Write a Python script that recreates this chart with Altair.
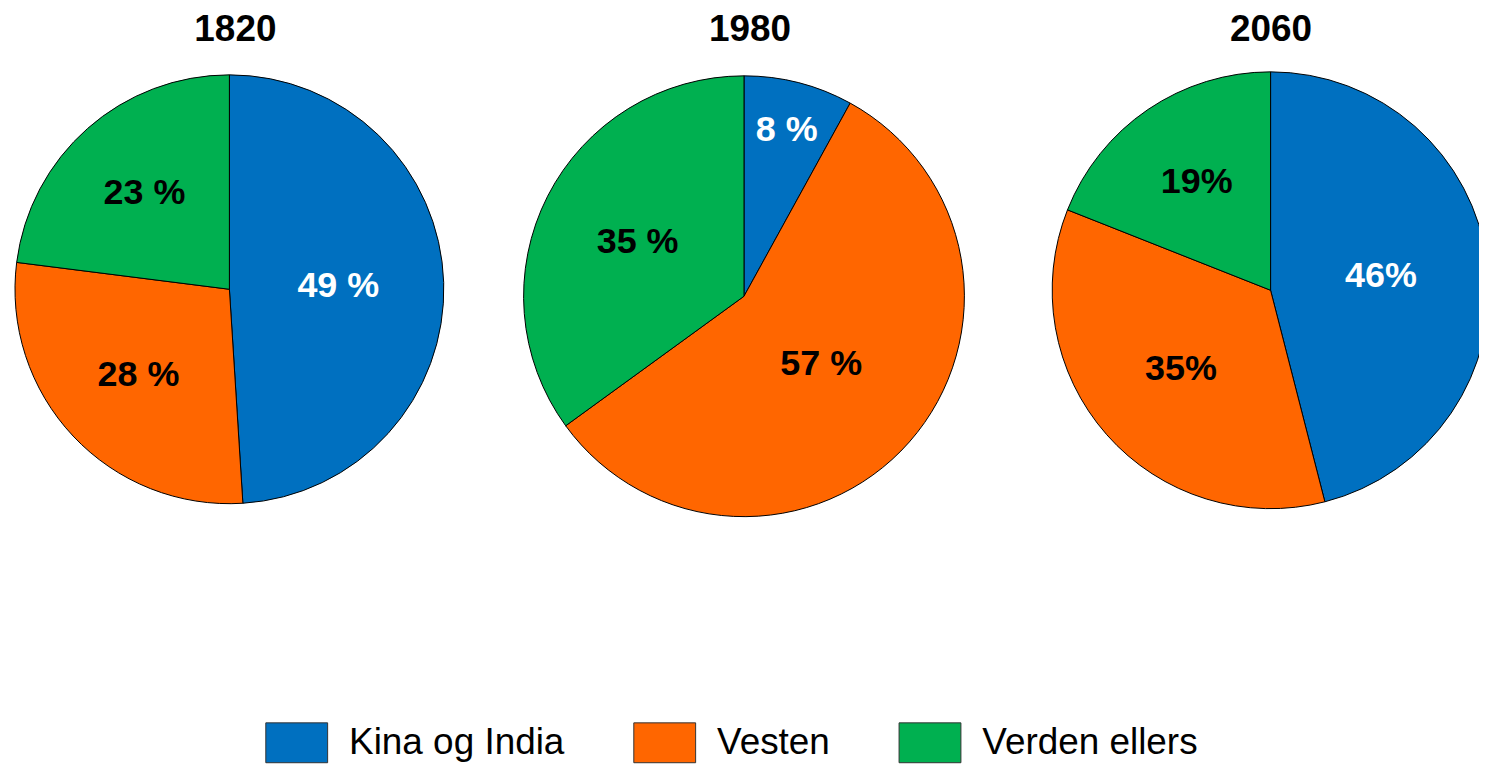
import altair as alt
import pandas as pd

years = ["1820", "1980", "2060"]
regions = ["Kina og India", "Vesten", "Verden ellers"]
shares = {
    "1820": [49, 28, 23],
    "1980": [8, 57, 35],
    "2060": [46, 35, 19],
}
labels = {
    "1820": ["49 %", "28 %", "23 %"],
    "1980": ["8 %", "57 %", "35 %"],
    "2060": ["46%", "35%", "19%"],
}
colors = ["#0070C0", "#FF6600", "#00B050"]

rows = []
for y in years:
    for k, (reg, val, lab) in enumerate(zip(regions, shares[y], labels[y])):
        rows.append({"year": y, "region": reg, "k": k, "share": val, "label": lab})
df = pd.DataFrame(rows)

FONT = "Liberation Sans"

legend = alt.Legend(
    title=None,
    orient="none",
    legendX=252,
    legendY=650,
    direction="horizontal",
    symbolType="M-1,-0.645L1,-0.645L1,0.645L-1,0.645Z",
    symbolSize=3844,
    symbolStrokeColor="#333333",
    symbolStrokeWidth=1,
    symbolOpacity=1,
    labelFont=FONT,
    labelFontSize=37,
    labelColor="black",
    labelOffset=21,
    columnPadding=66,
    labelLimit=0,
    padding=0,
)


def pie(year, w, h, r, cx=None, clip=False):
    src = alt.Chart(df).transform_filter(alt.datum.year == year)
    pos = {}
    if cx is not None:
        pos["x"] = alt.value(cx)
    arcs = src.mark_arc(radius=r, stroke="black", strokeWidth=1, clip=clip).encode(
        theta=alt.Theta("share:Q", stack=True),
        order=alt.Order("k:Q"),
        color=alt.Color(
            "region:N",
            scale=alt.Scale(domain=regions, range=colors),
            sort=regions,
            legend=legend,
        ),
        **pos,
    )
    text = (
        src.transform_window(cum="sum(share)", sort=[alt.SortField("k")], frame=[None, 0])
        .transform_calculate(
            mid="datum.cum - datum.share / 2",
            lr="datum.share < 10 ? 172 : 146 - 0.75 * datum.share",
        )
        .mark_text(font=FONT, fontSize=36, fontWeight="bold", align="center", baseline="middle")
        .encode(
            theta=alt.Theta("mid:Q"),
            radius=alt.Radius("lr:Q", scale=None),
            text="label:N",
            color=alt.condition(
                alt.datum.region == "Kina og India", alt.value("white"), alt.value("black")
            ),
            **pos,
        )
    )
    return alt.layer(arcs, text).properties(
        width=w,
        height=h,
        title=alt.TitleParams(
            text=year,
            font=FONT,
            fontSize=37,
            fontWeight="bold",
            color="black",
            anchor="middle",
            dx=6,
            offset=14,
        ),
    )


p1 = pie("1820", 432, 454, 215)
p2 = pie("1980", 444, 468, 221)
p3 = pie("2060", 429, 456, 219, cx=220, clip=True)

chart = (
    alt.hconcat(alt.hconcat(p1, p2, spacing=76), p3, spacing=85)
    .properties(padding={"left": 5, "top": 2, "right": 0, "bottom": 0})
    .configure_view(stroke=None)
)

chart.save("out.html", embed_options={"renderer": "svg", "actions": False})
